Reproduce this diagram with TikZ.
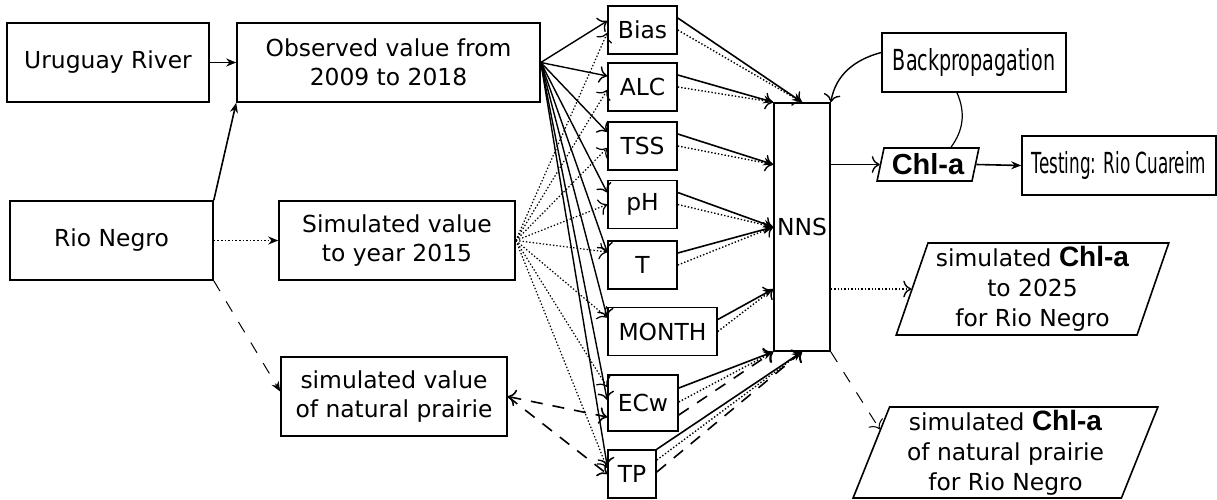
\documentclass[tikz,border=0pt]{standalone}
\usepackage{fontspec}
\setmainfont{DejaVu Sans}
\newfontfamily\chlfont{Liberation Sans}
\newfontfamily\backfont[FakeStretch=0.66]{DejaVu Sans}
\newfontfamily\testfont[FakeStretch=0.58]{DejaVu Sans}
\usetikzlibrary{shapes.geometric,arrows.meta,positioning,calc}
\newcommand{\chlname}[1]{{\chlfont\bfseries\fontsize{#1}{15}\selectfont Chl-a}}
\tikzset{
    box/.style={rectangle, draw, line width=0.8pt, align=center, inner sep=0pt, font=\fontsize{11.7}{14.5}\selectfont},
    inbox/.style={box, minimum width=34.5pt, minimum height=24pt},
    outbox/.style={trapezium, draw, line width=0.8pt, align=center, inner sep=0pt, trapezium left angle=71, trapezium right angle=109, trapezium stretches=true, font=\fontsize{11.7}{15}\selectfont},
    arr/.style={-{Stealth[length=5pt,width=4pt]}, line width=0.8pt},
    fan/.style={-{To[length=4pt]}, line width=0.7pt},
    fandot/.style={fan, densely dotted},
    dashln/.style={fan, line width=0.8pt, dash pattern=on 6pt off 5pt},
}

\begin{document}
\begin{tikzpicture}[x=0.5pt, y=-0.5pt]
    \useasboundingbox (0,0) rectangle (1217,499);

    % sources
    \node[box, minimum width=101pt, minimum height=39.5pt] (uru) at (108,62.5) {Uruguay River};
    \node[box, minimum width=151.5pt, minimum height=39.5pt] (obs) at (388.5,62.5) {Observed value from\\2009 to 2018};
    \node[box, minimum width=101.5pt, minimum height=39.5pt] (rio) at (111.5,240.5) {Rio Negro};
    \node[box, minimum width=118pt, minimum height=39.5pt] (sim) at (397,240.5) {Simulated value\\to year 2015};
    \node[box, minimum width=113pt, minimum height=39.5pt] (prai) at (394,396.5) {simulated value\\of natural prairie};

    % input variables
    \node[inbox] (bias) at (642.5,30) {Bias};
    \node[inbox] (alc) at (642.5,87) {ALC};
    \node[inbox] (tss) at (642.5,146) {TSS};
    \node[inbox] (ph) at (642.5,204.5) {pH};
    \node[inbox] (t) at (642.5,265) {T};
    \node[inbox, minimum width=54.5pt] (month) at (662.5,331.5) {MONTH};
    \node[inbox, minimum width=35pt, minimum height=28pt] (ecw) at (643,403) {ECw};
    \node[inbox, minimum width=24pt] (tp) at (632,474) {TP};

    % network and outputs
    \node[box, minimum width=28pt, minimum height=124pt] (nns) at (802,227) {NNS};
    \node[box, minimum width=92pt, minimum height=29.5pt, font=\backfont\fontsize{14.5}{15}\selectfont] (back) at (974,62.5) {Backpropagation};
    \node[outbox, trapezium left angle=75, trapezium right angle=105, minimum width=51pt, minimum height=16.5pt] (chl) at (928,164.5) {\chlname{14.5}};
    \node[box, minimum width=97pt, minimum height=29.5pt, font=\testfont\fontsize{14.5}{15}\selectfont] (test) at (1119,165.5) {Testing: Rio Cuareim};
    \node[outbox, minimum width=136.5pt, minimum height=46pt] (out25) at (1032.5,289) {simulated \chlname{14}\\to 2025\\ for Rio Negro};
    \node[outbox, trapezium left angle=70, trapezium right angle=110, minimum width=152.5pt, minimum height=45.5pt] (outnp) at (1005.5,452.5) {simulated \chlname{14}\\of natural prairie\\ for Rio Negro};

    \coordinate (inTSS) at (nns.west |- chl.west);
    \coordinate (inMON) at (nns.west |- out25.west);

    % sources to data
    \draw[arr] (uru) -- (obs);
    \draw[arr] (rio.north east) -- (obs.south west);
    \draw[arr, densely dotted] (rio) -- (sim);
    \draw[-{Stealth[length=5pt,width=4pt]}, line width=0.5pt, dash pattern=on 6pt off 6pt] (rio.south east) -- ([yshift=2.5pt]prai.west);

    % data to variables
    \foreach \n/\s/\d in {bias/4.5/-1.5, alc/5.5/-1.5, tss/7/-1, ph/6/0, t/6.5/6.5, month/7/7, ecw/1.5/8, tp/4/3} {
        \draw[fan] (obs.east) -- ([yshift=\s pt]\n.west);
        \draw[fandot, line width=0.6pt] (sim.east) -- ([yshift=\d pt]\n.west);
    }
    \draw[dashln, {To[length=4pt]}-{To[length=4pt]}] (prai.east) -- ([yshift=-7pt]ecw.west);
    \draw[dashln] (prai.east) -- (tp.west);

    % variables to network
    \foreach \n/\m in {bias/nns.north, alc/nns.north west, tss/inTSS, ph/nns.west, t/nns.west, month/inMON} {
        \draw[arr] ([yshift=6pt]\n.east) -- (\m);
        \draw[fandot] (\n.east) -- (\m);
    }
    \draw[arr] ([yshift=7.5pt]ecw.east) -- (nns.south west);
    \draw[fandot] ([yshift=0.5pt]ecw.east) -- (nns.south west);
    \draw[dashln] ([yshift=-6pt]ecw.east) -- (nns.south west);
    \draw[arr] (tp.north east) -- (nns.south);
    \draw[fandot] ([yshift=7pt]tp.east) -- (nns.south);
    \draw[dashln] ([yshift=1pt]tp.east) -- (nns.south);

    % outputs
    \draw[fan] (nns.east |- chl.west) -- (chl.west);
    \draw[arr] (chl.east) -- (test.west);
    \draw[fan] ([yshift=5pt]back.west) to[out=195,in=80] (nns.north east);
    \draw[line width=0.6pt] ([xshift=11.5pt]chl.north) to[bend right=30] ([xshift=-8.5pt]back.south);
    \draw[fandot] (nns.east |- out25.west) -- (out25.west);
    \draw[fan, line width=0.5pt, dash pattern=on 6pt off 6pt] (nns.south east) -- ($(outnp.top left corner)!0.25!(outnp.bottom left corner)$);
\end{tikzpicture}
\end{document}
